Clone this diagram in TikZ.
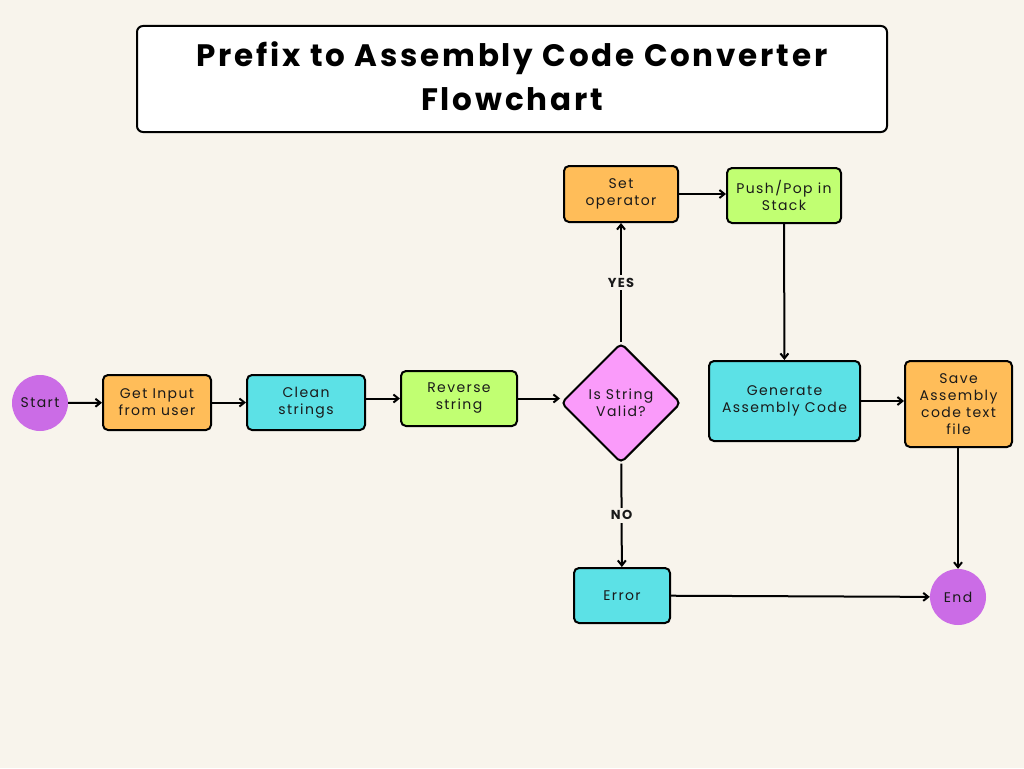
\documentclass[tikz,border=0pt]{standalone}
\usepackage{fontspec}
\setmainfont{Poppins}
\newfontfamily\nodefont[LetterSpace=10]{Poppins}
\newfontfamily\titlefont[LetterSpace=9]{Poppins}
\usepackage{tikz}
\usetikzlibrary{arrows.meta,shapes.geometric}
\definecolor{bgcream}{HTML}{F8F4EC}
\definecolor{boxorange}{HTML}{FFBD59}
\definecolor{boxcyan}{HTML}{5CE1E6}
\definecolor{boxgreen}{HTML}{C1FF72}
\definecolor{boxpink}{HTML}{FA9BFA}
\definecolor{termpurple}{HTML}{CB6CE6}
\definecolor{inkdark}{HTML}{1A1A1A}

\begin{document}
\begin{tikzpicture}[
  x=1pt, y=-1pt,
  every node/.style={text=inkdark},
  block/.style={draw=black,line width=2pt,rounded corners=5pt,align=center,inner sep=0pt,
    font=\nodefont\fontsize{14}{17}\selectfont},
  terminal/.style={circle,fill=termpurple,minimum size=56pt,inner sep=0pt,
    font=\nodefont\fontsize{14}{17}\selectfont},
  decision/.style={draw=black,line width=2pt,diamond,rounded corners=5pt,fill=boxpink,
    minimum width=120pt,minimum height=120pt,inner sep=0pt,align=center,
    font=\nodefont\fontsize{14}{17}\selectfont},
  answer/.style={fill=bgcream,font=\nodefont\fontsize{13}{15}\selectfont\bfseries,inner sep=3pt},
  arrow/.style={-{Straight Barb[length=5pt,width=8pt]},line width=2pt,black}
]
\useasboundingbox[fill=bgcream] (0,0) rectangle (1024,768);

% title
\node[draw=black,line width=2pt,rounded corners=6pt,fill=white,minimum width=750pt,
  minimum height=106pt,align=center,text=black,
  font=\titlefont\fontsize{31}{44}\selectfont\bfseries]
  (title) at (512,79) {\raisebox{3pt}[\height][\depth]{\parbox{700pt}{\centering Prefix to Assembly Code Converter\\Flowchart}}};

% main row
\node[terminal] (start) at (40,403) {Start};
\node[block,fill=boxorange,minimum width=108pt,minimum height=55pt] (input) at (157,402.5) {Get Input\\from user};
\node[block,fill=boxcyan,minimum width=118pt,minimum height=55pt] (clean) at (306,402.5) {Clean\\strings};
\node[block,fill=boxgreen,minimum width=116pt,minimum height=55pt] (rev) at (459,398.5) {Reverse\\string};
\node[decision] (valid) at (621,403) {Is String\\Valid?};

% upper branch
\node[block,fill=boxorange,minimum width=114pt,minimum height=56pt] (setop) at (621,194) {Set\\operator};
\node[block,fill=boxgreen,minimum width=114pt,minimum height=55pt] (stack) at (784,195.5) {Push/Pop in\\Stack};
\node[block,fill=boxcyan,minimum width=151pt,minimum height=80pt] (gen) at (784.5,401) {Generate\\Assembly Code};
\node[block,fill=boxorange,minimum width=107pt,minimum height=86pt] (save) at (958.5,404) {Save\\Assembly\\code text\\file};

% lower branch
\node[block,fill=boxcyan,minimum width=96pt,minimum height=55pt] (err) at (622,595.5) {Error};
\node[terminal] (stop) at (958,597) {End};

\draw[arrow] (start) -- (input);
\draw[arrow] (input) -- (clean);
\draw[arrow] (clean.east |- rev) -- (rev);
\draw[arrow] (rev) -- (rev -| valid.west);
\draw[arrow] (valid) -- node[answer]{YES} (setop);
\draw[arrow] (valid) -- node[answer]{NO} (err);
\draw[arrow] (setop) -- (stack.west |- setop);
\draw[arrow] (stack) -- (gen);
\draw[arrow] (gen) -- (save.west |- gen);
\draw[arrow] (save.south -| stop) -- (stop);
\draw[arrow] (err) -- (stop);
\end{tikzpicture}
\end{document}
